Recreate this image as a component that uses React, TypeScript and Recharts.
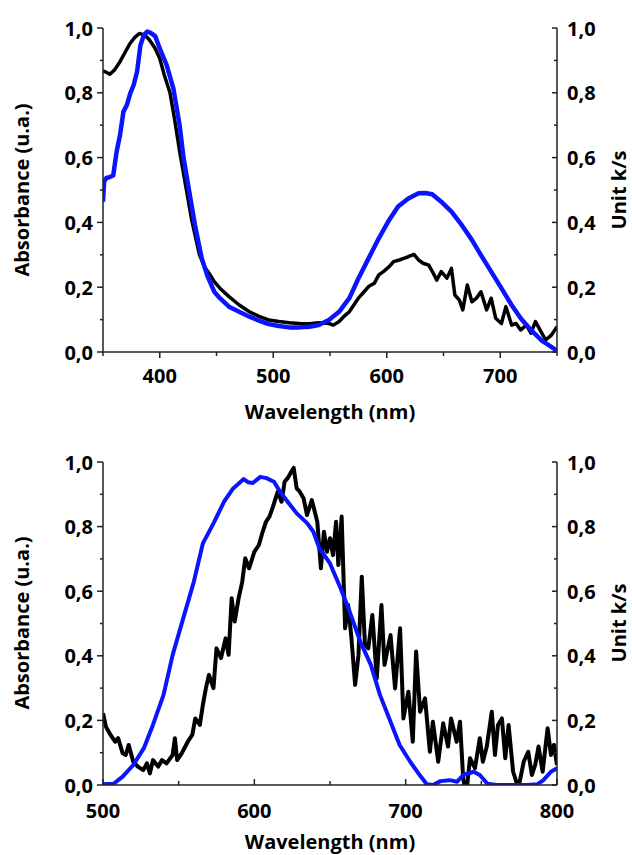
import { LineChart, Line, XAxis, YAxis } from "recharts";

// top panel: absorbance (black) and k/s (blue)
const topAbsNm = [
  350, 352, 356, 360, 365, 369, 374, 378, 382, 387, 391, 396, 400, 404, 409, 413, 417.5, 423, 428, 435,
  440, 444, 448, 453, 461, 470, 479, 488, 496, 505, 514, 523, 532, 540, 549, 553, 558, 562, 567, 571,
  575, 580, 584, 589, 593, 597, 602, 606, 611, 615, 619, 624, 628, 632, 637, 641, 644, 648, 653, 657,
  660, 664, 667, 671, 675, 679, 683, 688, 692, 696, 701, 705, 710, 714, 718, 723, 727, 731, 736, 740,
  745, 750,
];
const topAbsVal = [
  0.868, 0.865, 0.857, 0.87, 0.896, 0.922, 0.953, 0.971, 0.983, 0.978, 0.963, 0.937, 0.906, 0.855, 0.8, 0.72, 0.62, 0.51, 0.41, 0.3,
  0.26, 0.24, 0.217, 0.197, 0.171, 0.145, 0.124, 0.109, 0.099, 0.094, 0.09, 0.088, 0.087, 0.09, 0.088, 0.083, 0.094, 0.109, 0.124, 0.145,
  0.166, 0.186, 0.202, 0.212, 0.238, 0.248, 0.263, 0.279, 0.284, 0.289, 0.294, 0.301, 0.284, 0.274, 0.268, 0.243, 0.222, 0.248, 0.228, 0.258,
  0.176, 0.16, 0.13, 0.207, 0.155, 0.166, 0.186, 0.13, 0.166, 0.104, 0.088, 0.14, 0.083, 0.088, 0.068, 0.083, 0.058, 0.094, 0.062, 0.037,
  0.052, 0.078,
];
const topKsNm = [
  350, 351, 353, 356, 359, 362, 365, 368, 371, 374, 377, 380, 383, 386, 389, 392, 396, 400, 406, 412,
  417.5, 421, 426, 431, 437, 442, 448, 453, 461, 470, 479, 488, 496, 505, 514, 523, 532, 540, 549, 558,
  567, 575, 584, 593, 602, 610, 619, 628, 634, 640, 648, 657, 666, 675, 683, 692, 701, 710, 718, 727,
  736, 745, 750,
];
const topKsVal = [
  0.464, 0.526, 0.537, 0.54, 0.545, 0.618, 0.67, 0.742, 0.762, 0.798, 0.824, 0.865, 0.947, 0.978, 0.989, 0.985, 0.975, 0.937, 0.886, 0.814,
  0.7, 0.598, 0.495, 0.392, 0.289, 0.235, 0.186, 0.166, 0.14, 0.124, 0.109, 0.096, 0.086, 0.08, 0.076, 0.076, 0.078, 0.083, 0.099, 0.124,
  0.166, 0.227, 0.289, 0.351, 0.407, 0.449, 0.474, 0.49, 0.491, 0.487, 0.464, 0.433, 0.392, 0.346, 0.299, 0.248, 0.197, 0.145, 0.104, 0.068,
  0.037, 0.016, 0.004,
];

// bottom panel
const botAbsNm = [
  500, 502, 505, 508, 510, 513, 515, 517, 520, 523, 526.6, 529, 531, 533, 536.5, 539, 542, 546, 547.5, 549,
  552, 556, 559, 561, 564, 566, 568, 570, 573, 575, 578, 581, 583, 585, 587, 589.6, 592, 594, 596.5, 600,
  603, 605.5, 607.7, 610, 612, 615.5, 618, 620, 622, 626, 628, 630, 632.5, 634.8, 638, 641.6, 644, 646, 648, 650,
  652, 654, 655.5, 657.7, 660, 662, 664, 666.6, 668.8, 671, 673.1, 675.3, 678, 680.9, 684, 686, 690, 693, 696.3, 698.5,
  701.8, 704.7, 706.9, 709.5, 712.8, 716, 718, 721.5, 724.8, 728, 730, 733.7, 735.9, 738, 740, 742.5, 745.8, 749, 751, 753.6,
  756.9, 759, 761, 763.6, 765.8, 768, 771, 774.5, 778, 781, 783.4, 785.6, 787.8, 790.5, 793.8, 796, 798, 800,
];
const botAbsVal = [
  0.222, 0.18, 0.155, 0.134, 0.145, 0.098, 0.093, 0.124, 0.072, 0.057, 0.046, 0.067, 0.036, 0.077, 0.057, 0.077, 0.067, 0.093, 0.145, 0.077,
  0.098, 0.134, 0.155, 0.206, 0.186, 0.248, 0.3, 0.341, 0.3, 0.423, 0.393, 0.454, 0.403, 0.578, 0.506, 0.578, 0.629, 0.702, 0.671, 0.722,
  0.743, 0.784, 0.815, 0.831, 0.857, 0.908, 0.877, 0.939, 0.95, 0.982, 0.918, 0.908, 0.888, 0.836, 0.882, 0.815, 0.671, 0.784, 0.722, 0.764,
  0.712, 0.815, 0.681, 0.831, 0.485, 0.557, 0.464, 0.31, 0.402, 0.645, 0.433, 0.423, 0.526, 0.33, 0.557, 0.372, 0.464, 0.299, 0.485, 0.206,
  0.289, 0.134, 0.413, 0.227, 0.268, 0.103, 0.196, 0.072, 0.191, 0.119, 0.206, 0.134, 0.196, 0.02, -0.03, 0.083, 0.052, 0.145, 0.072, 0.119,
  0.227, 0.093, 0.186, 0.206, 0.083, 0.186, 0.041, -0.01, 0.072, 0.103, 0.031, 0.062, 0.119, 0.041, 0.176, 0.093, 0.124, 0.062,
];
const botKsNm = [
  500, 507, 513, 520, 527, 533, 540, 546, 553, 560, 566, 573, 580, 586, 593, 596, 599, 604, 608, 613,
  617, 622, 628, 635, 639, 643, 650, 657, 663, 670, 677, 683, 690, 696, 703, 710, 714, 718, 723, 729,
  734, 738, 745, 749, 754, 760, 767, 774, 780, 787, 791, 796, 800,
];
const botKsVal = [
  0.002, 0.004, 0.026, 0.062, 0.114, 0.186, 0.279, 0.402, 0.516, 0.629, 0.748, 0.81, 0.877, 0.918, 0.947, 0.937, 0.935, 0.954, 0.95, 0.939,
  0.908, 0.877, 0.841, 0.81, 0.784, 0.733, 0.686, 0.609, 0.537, 0.444, 0.372, 0.279, 0.196, 0.124, 0.072, 0.026, 0.002, 0, 0.012, 0.015,
  0.01, 0.031, 0.041, 0.031, 0.004, 0, 0, 0, 0, 0.002, 0.015, 0.041, 0.052,
];

const yTicks = [0, 0.1, 0.2, 0.3, 0.4, 0.5, 0.6, 0.7, 0.8, 0.9, 1.0];
const topXTicks = [350, 400, 450, 500, 550, 600, 650, 700, 750];
const botXTicks = [500, 550, 600, 650, 700, 750, 800];

const zip = (xs: number[], ys: number[]) => xs.map((x, i) => ({ x, y: ys[i] }));

const FONT = "'Open Sans', sans-serif";
const AX = "#222";
const fmt = (v: number) => v.toFixed(1).replace(".", ",");
const isMajorY = (v: number) => Math.round(v * 10) % 2 === 0;

const LeftTick = (props: any) => {
  const { x, y, payload } = props;
  const major = isMajorY(payload.value);
  return (
    <g>
      <line x1={x} x2={x - (major ? 6 : 3)} y1={y} y2={y} stroke={AX} strokeWidth={1.5} />
      {major && (
        <text x={x - 10} y={y} textAnchor="end" dominantBaseline="central" fontFamily={FONT} fontWeight={700} fontSize={20} fill="#000">
          {fmt(payload.value)}
        </text>
      )}
    </g>
  );
};

const RightTick = (props: any) => {
  const { x, y, payload } = props;
  const major = isMajorY(payload.value);
  return (
    <g>
      <line x1={x} x2={x - (major ? 5 : 3)} y1={y} y2={y} stroke={AX} strokeWidth={1.5} />
      {major && (
        <text x={x + 10} y={y} textAnchor="start" dominantBaseline="central" fontFamily={FONT} fontWeight={700} fontSize={20} fill="#000">
          {fmt(payload.value)}
        </text>
      )}
    </g>
  );
};

const makeXTick = (inward: boolean, labelDy: number) => (props: any) => {
  const { x, y, payload } = props;
  const major = payload.value % 100 === 0;
  const len = major ? 6 : 4;
  return (
    <g>
      <line x1={x} x2={x} y1={y} y2={inward ? y - len : y + len} stroke={AX} strokeWidth={1.5} />
      {major && (
        <text x={x} y={y + labelDy} textAnchor="middle" dominantBaseline="central" fontFamily={FONT} fontWeight={700} fontSize={20} fill="#000">
          {payload.value}
        </text>
      )}
    </g>
  );
};

const TopXTick = makeXTick(false, 23);
const BotXTick = makeXTick(true, 25);

type PanelProps = {
  abs: { x: number; y: number }[];
  ks: { x: number; y: number }[];
  domain: [number, number];
  xTicks: number[];
  tick: any;
  height: number;
  top: number;
  bottom: number;
  absWidth: number;
  ksWidth: number;
};

const Panel = ({ abs, ks, domain, xTicks, tick, height, top, bottom, absWidth, ksWidth }: PanelProps) => (
  <LineChart width={632} height={height} margin={{ top, left: 41, right: 13, bottom }}>
    <XAxis
      type="number"
      dataKey="x"
      domain={domain}
      ticks={xTicks}
      interval={0}
      allowDataOverflow
      tickSize={0}
      tickMargin={0}
      height={50}
      stroke={AX}
      strokeWidth={1.5}
      tick={tick}
    />
    <YAxis
      yAxisId="l"
      domain={[0, 1]}
      ticks={yTicks}
      interval={0}
      allowDataOverflow
      width={62}
      tickSize={0}
      tickMargin={0}
      stroke={AX}
      strokeWidth={1.5}
      tick={<LeftTick />}
    />
    <YAxis
      yAxisId="r"
      orientation="right"
      domain={[0, 1]}
      ticks={yTicks}
      interval={0}
      allowDataOverflow
      width={62}
      tickSize={0}
      tickMargin={0}
      stroke={AX}
      strokeWidth={1.5}
      tick={<RightTick />}
    />
    <Line
      yAxisId="l"
      data={abs}
      dataKey="y"
      type="linear"
      stroke="#000"
      strokeWidth={absWidth}
      dot={false}
      strokeLinejoin="round"
      isAnimationActive={false}
    />
    <Line
      yAxisId="r"
      data={ks}
      dataKey="y"
      type="linear"
      stroke="#0a14ff"
      strokeWidth={ksWidth}
      dot={false}
      strokeLinejoin="round"
      isAnimationActive={false}
    />
  </LineChart>
);

const titleStyle = { fontFamily: FONT, fontWeight: 700, fontSize: 20, fill: "#000" } as const;

const App = () => (
  <div style={{ position: "absolute", left: 0, top: 0, width: 632, height: 855, background: "#fff" }}>
    <div style={{ position: "absolute", left: 0, top: 0 }}>
      <Panel
        abs={zip(topAbsNm, topAbsVal)}
        ks={zip(topKsNm, topKsVal)}
        domain={[350, 750]}
        xTicks={topXTicks}
        tick={<TopXTick />}
        height={430}
        top={28}
        bottom={28}
        absWidth={3.5}
        ksWidth={4.5}
      />
    </div>
    <div style={{ position: "absolute", left: 0, top: 430 }}>
      <Panel
        abs={zip(botAbsNm, botAbsVal)}
        ks={zip(botKsNm, botKsVal)}
        domain={[500, 800]}
        xTicks={botXTicks}
        tick={<BotXTick />}
        height={425}
        top={32}
        bottom={20}
        absWidth={4}
        ksWidth={4}
      />
    </div>
    <svg width={632} height={855} style={{ position: "absolute", left: 0, top: 0, pointerEvents: "none" }}>
      <text x={330} y={419} textAnchor="middle" {...titleStyle}>Wavelength (nm)</text>
      <text x={330} y={849} textAnchor="middle" {...titleStyle}>Wavelength (nm)</text>
      <text x={29} y={190} textAnchor="middle" transform="rotate(-90 29 190)" {...titleStyle}>Absorbance (u.a.)</text>
      <text x={29} y={623} textAnchor="middle" transform="rotate(-90 29 623)" {...titleStyle}>Absorbance (u.a.)</text>
      <text x={626} y={190} textAnchor="middle" transform="rotate(-90 626 190)" {...titleStyle}>Unit k/s</text>
      <text x={626} y={623} textAnchor="middle" transform="rotate(-90 626 623)" {...titleStyle}>Unit k/s</text>
    </svg>
  </div>
);

export default App;
